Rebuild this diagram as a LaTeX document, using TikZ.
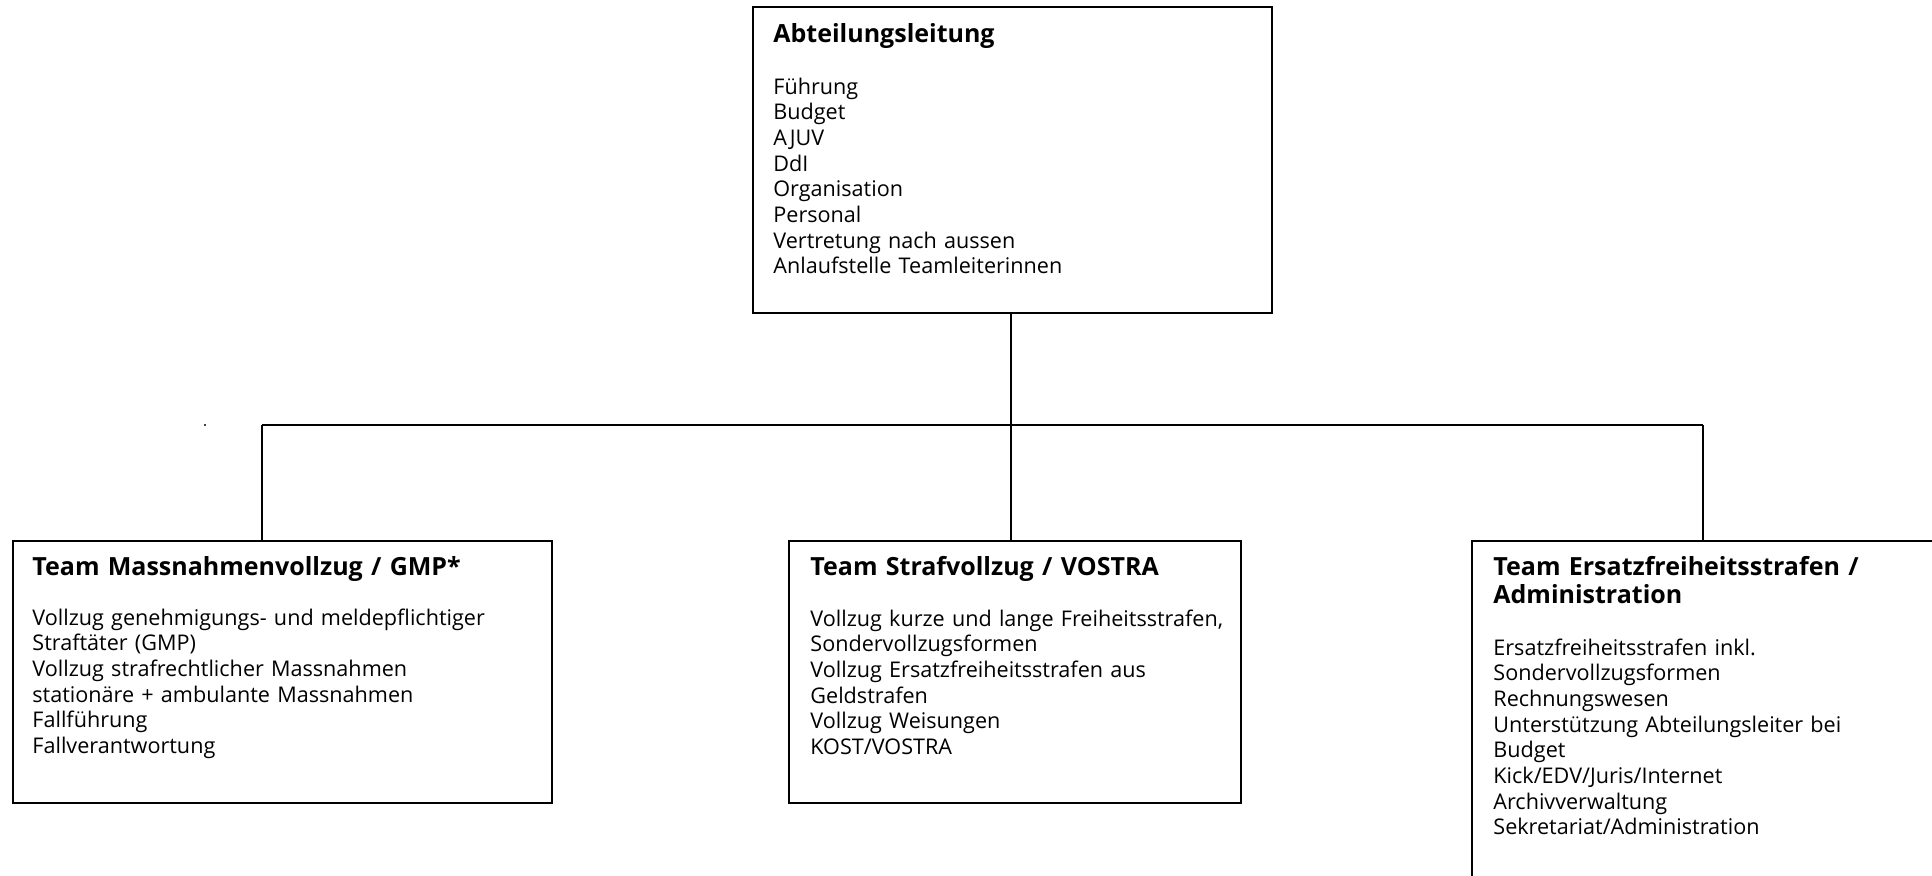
\documentclass[tikz,border=0pt]{standalone}
\usepackage{fontspec}
\setmainfont{Open Sans}
\usetikzlibrary{fit}
\begin{document}
\begin{tikzpicture}[x=0.5pt,y=-0.5pt,
  box/.style={draw=black, line width=1pt, inner sep=0pt},
  ttl/.style={anchor=base west, inner sep=0pt, align=left, text width=300pt, font=\bfseries\fontsize{12.5}{14}\selectfont},
  bdy/.style={anchor=base west, inner sep=0pt, align=left, text width=300pt, font=\fontsize{10.8}{12.85}\selectfont},
  conn/.style={line width=1pt}]
\clip (0,0) rectangle (1932,875);
\fill[white] (0,0) rectangle (1932,875);
% boxes
\node[box, fit={(753,7) (1272,313)}] (top) {};
\node[box, fit={(13,541) (552,803)}] (left) {};
\node[box, fit={(789,541) (1241,803)}] (mid) {};
\node[box, fit={(1472,541) (1980,920)}] (right) {};
% texts
\node[ttl] (toptitle) at (773,42) {Abteilungsleitung};
\node[bdy] (topbody) at (773,94) {Führung\\Budget\\AJUV\\DdI\\Organisation\\Personal\\Vertretung nach aussen\\Anlaufstelle Teamleiterinnen};
\node[ttl] (lefttitle) at (32,575) {Team Massnahmenvollzug / GMP*};
\node[bdy] (leftbody) at (32,625) {Vollzug genehmigungs- und meldepflichtiger\\Straftäter (GMP)\\Vollzug strafrechtlicher Massnahmen\\stationäre + ambulante Massnahmen\\Fallführung\\Fallverantwortung};
\node[ttl] (midtitle) at (810,575) {Team Strafvollzug / VOSTRA};
\node[bdy] (midbody) at (810,626) {Vollzug kurze und lange Freiheitsstrafen,\\Sondervollzugsformen\\Vollzug Ersatzfreiheitsstrafen aus\\Geldstrafen\\Vollzug Weisungen\\KOST/VOSTRA};
\node[ttl] (righttitle) at (1493,575) {Team Ersatzfreiheitsstrafen /\\Administration};
\node[bdy] (rightbody) at (1493,655) {Ersatzfreiheitsstrafen inkl.\\Sondervollzugsformen\\Rechnungswesen\\Unterstützung Abteilungsleiter bei\\Budget\\Kick/EDV/Juris/Internet\\Archivverwaltung\\Sekretariat/Administration};
% connectors
\coordinate (bl) at (262,425);
\coordinate (br) at (1703,425);
\coordinate (bc) at (1011,425);
\draw[conn] (bc |- top.south) -- (bc);
\draw[conn] (bl) -- (br);
\draw[conn] (bl) -- (bl |- left.north);
\draw[conn] (bc) -- (bc |- mid.north);
\draw[conn] (br) -- (br |- right.north);
% stray dot
\fill (205,425) circle (0.6pt);
\end{tikzpicture}
\end{document}
